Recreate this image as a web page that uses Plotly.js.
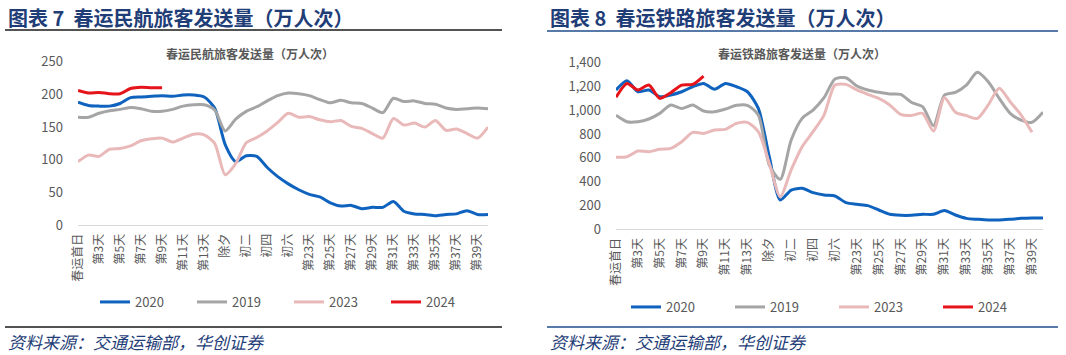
<!DOCTYPE html>
<html>
<head>
<meta charset="utf-8">
<script src="https://cdn.plot.ly/plotly-3.0.1.min.js"></script>
<style>
html,body{margin:0;padding:0;background:#fff;}
#chart{width:1066px;height:355px;}
</style>
</head>
<body>
<div id="chart"></div>
<script>
// ---- data ----
const categories = ["春运首日","第2天","第3天","第4天","第5天","第6天","第7天","第8天","第9天","第10天",
  "第11天","第12天","第13天","第14天","除夕","初一","初二","初三","初四","初五","初六","初七",
  "第23天","第24天","第25天","第26天","第27天","第28天","第29天","第30天","第31天","第32天",
  "第33天","第34天","第35天","第36天","第37天","第38天","第39天","第40天"];
const tickLabels = categories.filter((c, i) => i % 2 === 0);
const seriesNames = ["2020","2019","2023","2024"];

const air2020 = [188,183,182,182,186,195,196,197,198,197,199,199,196,179,123,97,106,105,88,74,63,54,47,43,34,29,30,25,27,27,36,21,17,16,14,16,17,22,16,16];
const air2019 = [165,165,171,175,177,180,178,174,174,177,182,184,184,176,144,162,174,181,190,198,202,201,198,192,187,191,187,186,179,172,194,189,190,186,185,179,177,178,179,178];
const air2023 = [97,107,105,116,117,121,129,132,133,127,133,139,138,125,77,94,126,134,144,157,171,165,166,161,158,160,151,148,140,133,163,153,156,150,160,145,147,140,133,150];
const air2024 = [206,202,203,201,201,209,211,210,210];

const rail2020 = [1170,1249,1156,1170,1114,1128,1156,1198,1226,1176,1226,1198,1156,1016,610,246,330,344,308,288,280,224,210,199,162,126,118,118,126,126,157,120,92,84,78,78,84,92,95,95];
const rail2019 = [958,904,904,927,974,1044,1016,1044,994,988,1011,1042,1042,960,540,420,750,932,1002,1106,1263,1274,1204,1171,1151,1137,1134,1065,1030,871,1128,1151,1212,1319,1240,1100,975,918,899,983];
const rail2023 = [605,610,658,652,672,680,736,815,806,834,840,890,899,820,554,274,500,694,820,960,1212,1218,1171,1134,1100,1045,965,957,975,826,1106,983,955,932,1045,1185,1072,960,815];
const rail2024 = [1109,1226,1170,1212,1100,1148,1212,1218,1288];

const headerLeft = "图表 7  春运民航旅客发送量（万人次）";
const headerRight = "图表 8  春运铁路旅客发送量（万人次）";
const titleLeft = "春运民航旅客发送量（万人次）";
const titleRight = "春运铁路旅客发送量（万人次）";
const sourceText = "资料来源：交通运输部，华创证券";

// ---- style ----
const W = 1066, H = 355;
const px = x => x / W;
const py = y => 1 - y / H;
const colors = {"2020":"#0F63BE","2019":"#A5A5A5","2023":"#E8B9B8","2024":"#E5141B"};
const FONT = "'Noto Sans CJK SC', 'Noto Sans', sans-serif";
const gray = "#595959";
const navy = "#1F3E78";

function tr(y, name, xa, ya, leg) {
  return {
    x: categories.slice(0, y.length), y: y, name: name, type: "scatter", mode: "lines",
    xaxis: xa, yaxis: ya, legend: leg,
    line: {color: colors[name], width: 3, shape: "spline", smoothing: 0.7},
    hoverinfo: "skip"
  };
}

const data = [
  tr(air2020, "2020", "x", "y", "legend"),
  tr(air2019, "2019", "x", "y", "legend"),
  tr(air2023, "2023", "x", "y", "legend"),
  tr(air2024, "2024", "x", "y", "legend"),
  tr(rail2020, "2020", "x2", "y2", "legend2"),
  tr(rail2019, "2019", "x2", "y2", "legend2"),
  tr(rail2023, "2023", "x2", "y2", "legend2"),
  tr(rail2024, "2024", "x2", "y2", "legend2")
];

function xax(d0, d1, anchor) {
  return {
    domain: [px(d0), px(d1)], anchor: anchor, type: "category",
    categoryorder: "array", categoryarray: categories,
    tickmode: "array", tickvals: tickLabels, ticktext: tickLabels,
    tickangle: -90, ticks: "", showgrid: false, zeroline: false,
    showline: true, linecolor: "#D9D9D9", linewidth: 1, ticklabelstandoff: 3,
    tickfont: {family: FONT, size: 12, color: gray}, fixedrange: true
  };
}
function yax(y0, y1, range, dtick, anchor, fmt) {
  return {
    domain: [py(y0), py(y1)], anchor: anchor, range: range, dtick: dtick,
    showgrid: false, zeroline: false, showline: false, ticks: "",
    tickformat: fmt, ticklabelstandoff: 14,
    tickfont: {family: FONT, size: 13, color: gray}, fixedrange: true
  };
}

const legendBase = {
  orientation: "h", xanchor: "left", yanchor: "middle",
  font: {family: FONT, size: 13, color: gray}, bgcolor: "rgba(0,0,0,0)",
  itemwidth: 30, entrywidthmode: "pixels", traceorder: "normal", itemclick: false, itemdoubleclick: false
};

const layout = {
  width: W, height: H, margin: {l: 0, r: 0, t: 0, b: 0},
  paper_bgcolor: "#fff", plot_bgcolor: "#fff", showlegend: true,
  xaxis: xax(78, 488, "y"),
  yaxis: yax(225, 61.7, [0, 250], 50, "x", ""),
  xaxis2: xax(616, 1043, "y2"),
  yaxis2: yax(229.3, 62.7, [0, 1400], 200, "x2", ",d"),
  legend: Object.assign({}, legendBase, {x: px(95), y: py(302), entrywidth: 52}),
  legend2: Object.assign({}, legendBase, {x: px(626), y: py(307), entrywidth: 59}),
  annotations: [
    {text: "<b>" + headerLeft + "</b>", x: px(6), y: py(17), xref: "paper", yref: "paper", xanchor: "left", yanchor: "middle", showarrow: false, font: {family: FONT, size: 20, color: navy}},
    {text: "<b>" + headerRight + "</b>", x: px(548), y: py(17), xref: "paper", yref: "paper", xanchor: "left", yanchor: "middle", showarrow: false, font: {family: FONT, size: 20, color: navy}},
    {text: "<b>" + titleLeft + "</b>", x: px(250), y: py(53), xref: "paper", yref: "paper", xanchor: "center", yanchor: "middle", showarrow: false, font: {family: FONT, size: 12, color: gray}},
    {text: "<b>" + titleRight + "</b>", x: px(802), y: py(53), xref: "paper", yref: "paper", xanchor: "center", yanchor: "middle", showarrow: false, font: {family: FONT, size: 12, color: gray}},
    {text: sourceText, x: px(6), y: py(341), xref: "paper", yref: "paper", xanchor: "left", yanchor: "middle", showarrow: false, font: {family: FONT, size: 17, color: navy, style: "italic"}},
    {text: sourceText, x: px(548), y: py(341), xref: "paper", yref: "paper", xanchor: "left", yanchor: "middle", showarrow: false, font: {family: FONT, size: 17, color: navy, style: "italic"}}
  ],
  shapes: [
    {type: "line", xref: "paper", yref: "paper", x0: px(5), x1: px(502), y0: py(30), y1: py(30), line: {color: "#1a1a1a", width: 1.5}},
    {type: "line", xref: "paper", yref: "paper", x0: px(547), x1: px(1058), y0: py(31), y1: py(31), line: {color: "#1F4E8C", width: 1.5}},
    {type: "line", xref: "paper", yref: "paper", x0: px(5), x1: px(502), y0: py(327), y1: py(327), line: {color: "#1a1a1a", width: 1.5}},
    {type: "line", xref: "paper", yref: "paper", x0: px(547), x1: px(1058), y0: py(327), y1: py(327), line: {color: "#1F4E8C", width: 1.5}}
  ]
};

Plotly.newPlot("chart", data, layout, {displayModeBar: false, staticPlot: true});
</script>
</body>
</html>
